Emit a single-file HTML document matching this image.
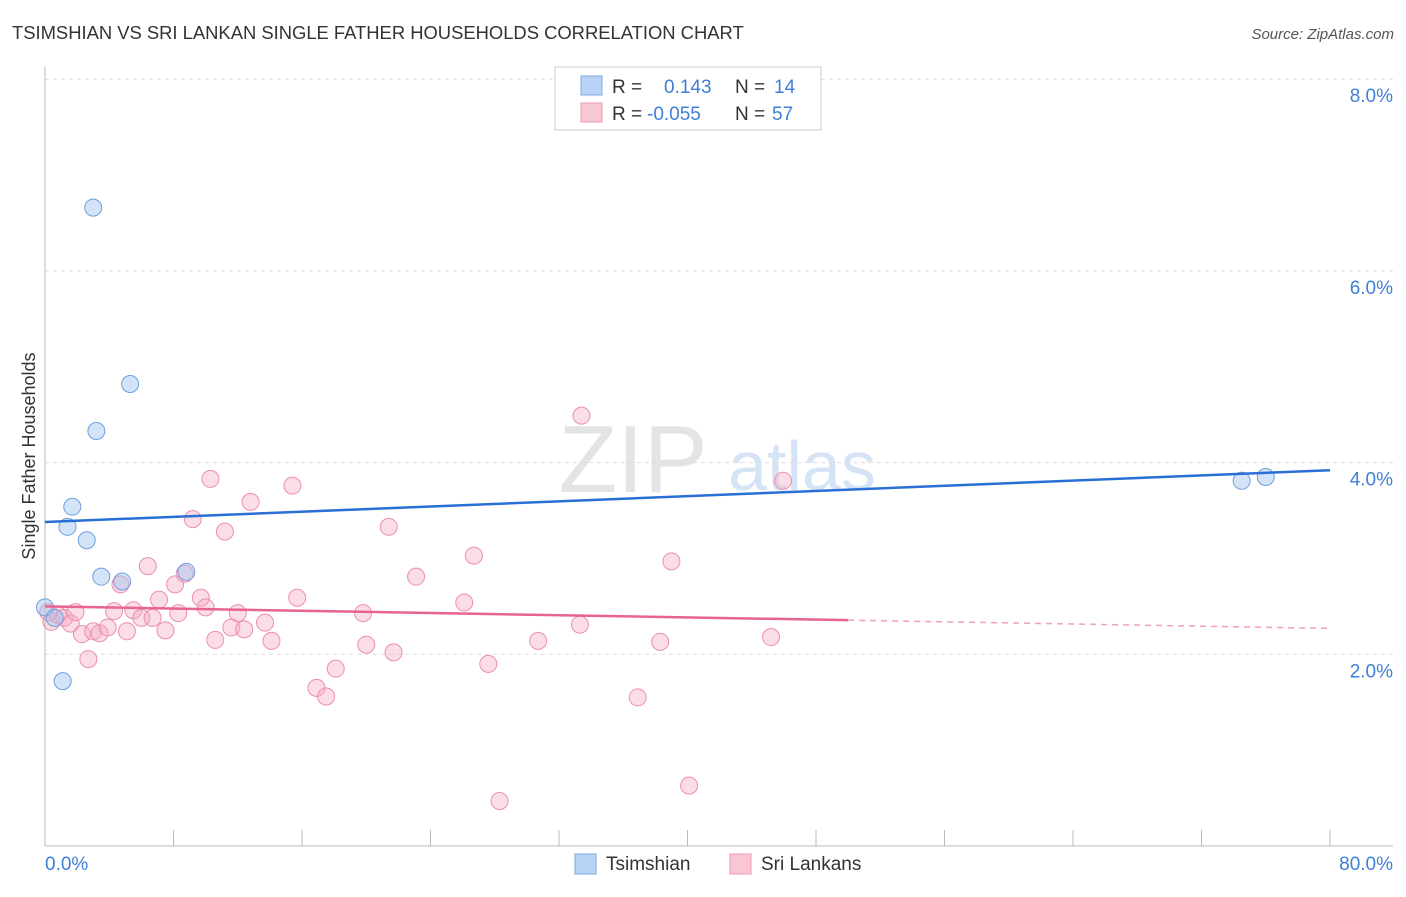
<!DOCTYPE html>
<html><head><meta charset="utf-8"><style>
body{margin:0;background:#fff;font-family:"Liberation Sans",sans-serif;}
svg text{font-family:"Liberation Sans",sans-serif;}
</style></head><body>
<svg id="chart" width="1406" height="892">
<text x="12" y="39" font-size="18.4" fill="#333">TSIMSHIAN VS SRI LANKAN SINGLE FATHER HOUSEHOLDS CORRELATION CHART</text>
<text x="1394" y="39" font-size="15" fill="#555" text-anchor="end" font-style="italic">Source: ZipAtlas.com</text>
<text x="35" y="456" font-size="18" fill="#333" text-anchor="middle" transform="rotate(-90 35 456)">Single Father Households</text>
<text x="633" y="492" font-size="96" fill="#e4e4e4" font-family="Liberation Serif" text-anchor="middle">ZIP</text>
<text x="802" y="490" font-size="70" fill="#d5e4f5" text-anchor="middle">atlas</text>
<g id="grid"></g><g id="axes"></g><g id="marks"></g>
<g>
<rect x="555" y="67" width="266" height="63" fill="#fff" stroke="#ccc"/>
<rect x="581" y="76" width="21" height="19" fill="#b8d3f5" stroke="#7fa9e0"/>
<rect x="581" y="103" width="21" height="19" fill="#f9c6d4" stroke="#ee9ab4"/>
<text x="612" y="93" font-size="19" fill="#333">R = </text><text x="664" y="93" font-size="19" fill="#3f7fd8">0.143</text>
<text x="735" y="93" font-size="19" fill="#333">N = </text><text x="774" y="93" font-size="19" fill="#3f7fd8">14</text>
<text x="612" y="120" font-size="19" fill="#333">R = </text><text x="647" y="120" font-size="19" fill="#3f7fd8">-0.055</text>
<text x="735" y="120" font-size="19" fill="#333">N = </text><text x="772" y="120" font-size="19" fill="#3f7fd8">57</text>
</g>
<g><rect x="575" y="854" width="21" height="20" fill="#b8d3f5" stroke="#7fa9e0"/><text x="606" y="870" font-size="19" fill="#333">Tsimshian</text></g>
<g><rect x="730" y="854" width="21" height="20" fill="#f9c6d4" stroke="#ee9ab4"/><text x="761" y="870" font-size="19" fill="#333">Sri Lankans</text></g>
</svg>
<script>
const yTicks=[2,4,6,8];
const yTickLabels=["2.0%","4.0%","6.0%","8.0%"];
const xTickLabels=["0.0%","80.0%"];
const blueX=[0,0.6,3.0,5.3,3.2,1.7,1.4,2.6,3.5,4.8,8.8,1.1,74.5,76.0];
const blueY=[2.49,2.38,6.66,4.82,4.33,3.54,3.33,3.19,2.81,2.76,2.86,1.72,3.81,3.85];
const pinkX=[0.2,0.4,0.8,1.2,1.6,1.9,2.3,2.7,3.0,3.4,3.9,4.3,4.7,5.1,5.5,6.0,6.4,6.7,7.1,7.5,8.1,8.3,8.7,9.2,9.7,10.0,10.3,10.6,11.2,11.6,12.0,12.4,12.8,13.7,14.1,15.4,15.7,16.9,17.5,18.1,19.8,20.0,21.4,21.7,23.1,26.1,26.7,27.6,28.3,30.7,33.3,33.4,36.9,38.3,39.0,40.1,45.2,45.95];
const pinkY=[2.44,2.34,2.41,2.38,2.32,2.44,2.21,1.95,2.24,2.22,2.28,2.45,2.73,2.24,2.46,2.38,2.92,2.38,2.57,2.25,2.73,2.43,2.84,3.41,2.59,2.49,3.83,2.15,3.28,2.28,2.43,2.26,3.59,2.33,2.14,3.76,2.59,1.65,1.56,1.85,2.43,2.10,3.33,2.02,2.81,2.54,3.03,1.90,0.47,2.14,2.31,4.49,1.55,2.13,2.97,0.63,2.18,3.81];
const blueTrend=[3.38,3.92];
const pinkTrend=[2.50,2.27];
const pinkSolidEnd=50;
const NS="http://www.w3.org/2000/svg";
const sx=v=>45+v*(1285/80);
const sy=v=>846-v*95.85;
function mk(tag,attrs,parent){const e=document.createElementNS(NS,tag);for(const k in attrs)e.setAttribute(k,attrs[k]);document.getElementById(parent).appendChild(e);return e;}
yTicks.forEach((t,i)=>{
 const l=mk('line',{x1:45,x2:1393,y1:sy(t),y2:sy(t),stroke:'#ddd','stroke-dasharray':'4,4'},'grid');
 
 
 const tx=mk('text',{x:1393,y:sy(t)+23,'font-size':19,fill:'#3f7fd8','text-anchor':'end'},'grid');tx.textContent=yTickLabels[i];
 
 
});
const ax=mk('line',{x1:45,x2:1393,y1:846,y2:846,stroke:'#bbb'},'axes');


const ay=mk('line',{x1:45,x2:45,y1:67,y2:846,stroke:'#bbb'},'axes');


for(let i=0;i<=10;i++){const t=mk('line',{x1:sx(i*8),x2:sx(i*8),y1:830,y2:846,stroke:'#bbb'},'axes');
 
 }
[[0,'start',45],[80,'end',1393]].forEach((p,i)=>{const t=mk('text',{x:p[2],y:870,'font-size':19,fill:'#3f7fd8','text-anchor':p[1]},'axes');t.textContent=xTickLabels[i];
 
 });
pinkX.forEach((x,i)=>{const c=mk('circle',{cx:sx(x),cy:sy(pinkY[i]),r:8.5,fill:'rgba(246,170,194,0.4)',stroke:'#ec8fae','stroke-width':1},'marks');
 
 });
blueX.forEach((x,i)=>{const c=mk('circle',{cx:sx(x),cy:sy(blueY[i]),r:8.5,fill:'rgba(160,196,240,0.45)',stroke:'#6f9fdc','stroke-width':1},'marks');
 
 });
const pAt=x=>pinkTrend[0]+(pinkTrend[1]-pinkTrend[0])*x/80;
const pl=mk('line',{x1:sx(0),y1:sy(pinkTrend[0]),x2:sx(pinkSolidEnd),y2:sy(pAt(pinkSolidEnd)),stroke:'#e8648f','stroke-width':2.5},'marks');


const pd=mk('line',{x1:sx(pinkSolidEnd),y1:sy(pAt(pinkSolidEnd)),x2:sx(80),y2:sy(pinkTrend[1]),stroke:'#f0a0b8','stroke-width':1.5,'stroke-dasharray':'6,5'},'marks');


const bl=mk('line',{x1:sx(0),y1:sy(blueTrend[0]),x2:sx(80),y2:sy(blueTrend[1]),stroke:'#2a6fd6','stroke-width':2.5},'marks');


</script>
</body></html>
